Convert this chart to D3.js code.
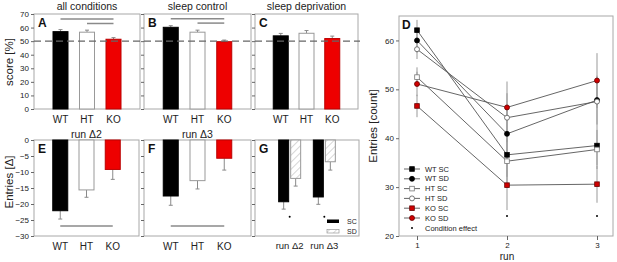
<!DOCTYPE html>
<html><head><meta charset="utf-8">
<script src="https://cdn.jsdelivr.net/npm/d3@7"></script>
<style>body{margin:0;background:#fff}svg{display:block;font-family:"Liberation Sans",Arial,sans-serif}</style>
</head><body><svg id="c" width="617" height="262"></svg>
<script>
// ---------- data ----------
const genotypes = ["WT", "HT", "KO"];
const topTitles = ["all conditions", "sleep control", "sleep deprivation"];
const topLetters = ["A", "B", "C"];
const scoreAll = [57.0, 56.6, 51.4];
const errAll = [1.5, 1.5, 1.2];
const scoreSC = [60.2, 56.6, 49.6];
const errSC = [1.2, 1.5, 1.2];
const scoreSD = [53.9, 55.8, 51.9];
const errSD = [1.8, 2.0, 1.8];
const sigA = [[0, 2, 66.3], [1, 2, 63.0]];
const sigB = [[0, 2, 66.5], [1, 2, 63.3]];
const scoreTicks = [0, 10, 20, 30, 40, 50, 60, 70];

const deltaTitles = ["run \u03942", "run \u03943"];
const delta2 = [-22.1, -15.6, -9.2];
const errDelta2 = [2.6, 2.3, 3.1];
const delta3 = [-17.5, -12.7, -5.7];
const errDelta3 = [2.9, 2.6, 3.7];
const sigDelta = -26.9;
const deltaTicks = [0, -5, -10, -15, -20, -25, -30];

const gRuns = ["run \u03942", "run \u03943"];
const gSC = [-19.3, -17.8];
const gSCerr = [2.3, 2.3];
const gSD = [-12.0, -6.8];
const gSDerr = [2.4, 2.6];
const gStar = -24.0;

const runs = [1, 2, 3];
const seriesNames = ["WT SC", "WT SD", "HT SC", "HT SD", "KO SC", "KO SD"];
const wtSC = [62.1, 36.6, 38.5];
const wtSD = [60.0, 40.9, 47.8];
const htSC = [52.5, 35.3, 37.7];
const htSD = [58.2, 44.2, 47.5];
const koSC = [46.6, 30.4, 30.6];
const koSD = [51.1, 46.3, 51.8];
const wtSCerr = [2.1, 4.5, 4.0];
const wtSDerr = [2.5, 5.0, 5.0];
const htSCerr = [2.0, 4.5, 4.0];
const htSDerr = [2.0, 5.0, 5.0];
const koSCerr = [2.3, 5.1, 3.8];
const koSDerr = [2.5, 5.3, 5.6];
const starRuns = [2, 3];
const starValue = 24.1;
const countTicks = [20, 30, 40, 50, 60];

// ---------- drawing ----------
const svg = d3.select("#c");
const FRAME = "#a8a8a8", GRAY = "#8a8a8a", TXT = "#222", RED = "#ee0000";
const TICKF = 8, LABF = 10, TITLEF = 10.5, AXF = 11.5;

const defs = svg.append("defs");
const pat = defs.append("pattern").attr("id", "hatch").attr("patternUnits", "userSpaceOnUse")
  .attr("width", 5).attr("height", 5).attr("patternTransform", "rotate(45)");
pat.append("rect").attr("width", 5).attr("height", 5).attr("fill", "#fff");
pat.append("line").attr("x1", 0).attr("y1", 0).attr("x2", 0).attr("y2", 5).attr("stroke", "#999").attr("stroke-width", 0.8);

const fills = ["#000", "#fff", RED];
const strokes = ["#000", "#999", "#b00"];

function frame(x0, x1, y0, y1) {
  svg.append("rect").attr("x", x0).attr("y", y0).attr("width", x1 - x0).attr("height", y1 - y0)
    .attr("fill", "none").attr("stroke", FRAME).attr("stroke-width", 1);
}
function yAxis(y, x0, ticks, labels, fmt) {
  const g = svg.append("g").attr("transform", `translate(${x0},0)`)
    .call(d3.axisLeft(y).tickValues(ticks).tickSize(3).tickPadding(2).tickFormat(labels ? fmt : ""));
  g.select(".domain").remove();
  g.selectAll("line").attr("stroke", "#666");
  g.selectAll("text").attr("fill", TXT).attr("font-size", TICKF).attr("font-family", "Liberation Sans, Arial, sans-serif");
}
function letter(t, x, y) {
  svg.append("text").attr("x", x).attr("y", y).attr("font-weight", "bold").attr("font-size", 12).attr("fill", "#111").text(t);
}

// top panels
const topX = [[34, 140], [144, 251], [255, 358]];
const yScore = d3.scaleLinear().domain([0, 70]).range([109, 14]);
const topData = [[scoreAll, errAll, sigA], [scoreSC, errSC, sigB], [scoreSD, errSD, []]];
topData.forEach(([vals, errs, sigs], p) => {
  const [x0, x1] = topX[p];
  const x = d3.scalePoint().domain(genotypes).range([x0, x1]).padding(1);
  frame(x0, x1, 14, 109);
  yAxis(yScore, x0, scoreTicks, p === 0, d3.format("d"));
  const bw = 15;
  genotypes.forEach((g, i) => {
    const cx = x(g);
    svg.append("line").attr("x1", cx).attr("x2", cx).attr("y1", yScore(vals[i])).attr("y2", yScore(vals[i] + errs[i]))
      .attr("stroke", GRAY).attr("stroke-width", 1);
    svg.append("line").attr("x1", cx - 2).attr("x2", cx + 2).attr("y1", yScore(vals[i] + errs[i])).attr("y2", yScore(vals[i] + errs[i]))
      .attr("stroke", GRAY).attr("stroke-width", 1);
    svg.append("rect").attr("x", cx - bw / 2).attr("y", yScore(vals[i])).attr("width", bw)
      .attr("height", yScore(0) - yScore(vals[i])).attr("fill", fills[i]).attr("stroke", strokes[i]).attr("stroke-width", 1);
  });
  svg.append("line").attr("x1", x0).attr("x2", x1 + 2).attr("y1", yScore(50)).attr("y2", yScore(50))
    .attr("stroke", "#666").attr("stroke-width", 1.2).attr("stroke-dasharray", "7,4");
  sigs.forEach(s => {
    svg.append("line").attr("x1", x(genotypes[s[0]])).attr("x2", x(genotypes[s[1]]))
      .attr("y1", yScore(s[2])).attr("y2", yScore(s[2])).attr("stroke", GRAY).attr("stroke-width", 1.5);
  });
  genotypes.forEach(g => {
    svg.append("text").attr("x", x(g)).attr("y", 123).attr("text-anchor", "middle").attr("font-size", LABF).attr("fill", TXT).text(g);
  });
  svg.append("text").attr("x", (x0 + x1) / 2).attr("y", 10).attr("text-anchor", "middle").attr("font-size", TITLEF).attr("fill", TXT).text(topTitles[p]);
  letter(topLetters[p], x0 + 4, 27);
});
svg.append("text").attr("transform", "translate(13,62) rotate(-90)").attr("text-anchor", "middle").attr("font-size", AXF).attr("fill", TXT).text("score [%]");

// bottom panels E, F
const yDelta = d3.scaleLinear().domain([-30, 0]).range([236, 140]);
const botX = [[34, 139], [144, 251], [255, 359]];
[[delta2, errDelta2], [delta3, errDelta3]].forEach(([vals, errs], p) => {
  const [x0, x1] = botX[p];
  const x = d3.scalePoint().domain(genotypes).range([x0, x1]).padding(1);
  frame(x0, x1, 140, 236);
  yAxis(yDelta, x0, deltaTicks, p === 0, d3.format("d"));
  const bw = 15;
  genotypes.forEach((g, i) => {
    const cx = x(g);
    const e = vals[i] - errs[i];
    svg.append("line").attr("x1", cx).attr("x2", cx).attr("y1", yDelta(vals[i])).attr("y2", yDelta(e)).attr("stroke", GRAY);
    svg.append("line").attr("x1", cx - 2).attr("x2", cx + 2).attr("y1", yDelta(e)).attr("y2", yDelta(e)).attr("stroke", GRAY);
    svg.append("rect").attr("x", cx - bw / 2).attr("y", yDelta(0)).attr("width", bw)
      .attr("height", yDelta(vals[i]) - yDelta(0)).attr("fill", fills[i]).attr("stroke", strokes[i]);
  });
  svg.append("line").attr("x1", x("WT")).attr("x2", x("KO")).attr("y1", yDelta(sigDelta)).attr("y2", yDelta(sigDelta))
    .attr("stroke", GRAY).attr("stroke-width", 1.5);
  genotypes.forEach(g => {
    svg.append("text").attr("x", x(g)).attr("y", 250).attr("text-anchor", "middle").attr("font-size", LABF).attr("fill", TXT).text(g);
  });
  svg.append("text").attr("x", x("HT")).attr("y", 138).attr("text-anchor", "middle").attr("font-size", TITLEF).attr("fill", TXT).text(deltaTitles[p]);
  letter(["E", "F"][p], x0 + 4, 153);
});
svg.append("text").attr("transform", "translate(13,182) rotate(-90)").attr("text-anchor", "middle").attr("font-size", AXF).attr("fill", TXT).text("Entries [\u0394]");

// panel G
{
  const [x0, x1] = botX[2];
  const x = d3.scalePoint().domain(gRuns).range([x0, x1]).padding(1);
  frame(x0, x1, 140, 236);
  yAxis(yDelta, x0, deltaTicks, false);
  const bw = 10;
  gRuns.forEach((r, i) => {
    const cx = x(r);
    [[gSC, gSCerr, cx - 6, "#000", "#000"], [gSD, gSDerr, cx + 6, "url(#hatch)", "#999"]].forEach(([v, e, c, f, s]) => {
      const ee = v[i] - e[i];
      svg.append("line").attr("x1", c).attr("x2", c).attr("y1", yDelta(v[i])).attr("y2", yDelta(ee)).attr("stroke", GRAY);
      svg.append("line").attr("x1", c - 2).attr("x2", c + 2).attr("y1", yDelta(ee)).attr("y2", yDelta(ee)).attr("stroke", GRAY);
      svg.append("rect").attr("x", c - bw / 2).attr("y", yDelta(0)).attr("width", bw)
        .attr("height", yDelta(v[i]) - yDelta(0)).attr("fill", f).attr("stroke", s);
    });
    svg.append("circle").attr("cx", cx).attr("cy", yDelta(gStar)).attr("r", 1).attr("fill", "#000");
    svg.append("text").attr("x", cx).attr("y", 249).attr("text-anchor", "middle").attr("font-size", 9.5).attr("fill", TXT).text(r);
  });
  svg.append("rect").attr("x", 327).attr("y", 219.5).attr("width", 12).attr("height", 3.5).attr("fill", "#000");
  svg.append("rect").attr("x", 327).attr("y", 229.5).attr("width", 12).attr("height", 3.5).attr("fill", "url(#hatch)").attr("stroke", "#999").attr("stroke-width", 0.7);
  svg.append("text").attr("x", 347).attr("y", 224).attr("font-size", 7).attr("fill", TXT).text("SC");
  svg.append("text").attr("x", 347).attr("y", 234).attr("font-size", 7).attr("fill", TXT).text("SD");
  letter("G", x0 + 4, 153);
}

// panel D
{
  const x0 = 399, x1 = 613, y0 = 16, y1 = 236;
  const x = d3.scaleLinear().domain([1, 3]).range([417, 597]);
  const y = d3.scaleLinear().domain([20, 65]).range([y1, y0]);
  frame(x0, x1, y0, y1);
  yAxis(y, x0, countTicks, true, d3.format("d"));
  const gx = svg.append("g").attr("transform", `translate(0,${y1})`)
    .call(d3.axisBottom(x).tickValues(runs).tickSize(4).tickPadding(2).tickFormat(d3.format("d")));
  gx.select(".domain").remove();
  gx.selectAll("line").attr("stroke", "#666");
  gx.selectAll("text").attr("fill", TXT).attr("font-size", TICKF).attr("font-family", "Liberation Sans, Arial, sans-serif");
  svg.append("text").attr("x", x(2)).attr("y", 260).attr("text-anchor", "middle").attr("font-size", 10).attr("fill", TXT).text("run");
  svg.append("text").attr("transform", `translate(377,${(y0 + y1) / 2}) rotate(-90)`).attr("text-anchor", "middle").attr("font-size", AXF).attr("fill", TXT).text("Entries [count]");

  const series = [
    {name: seriesNames[0], v: wtSC, e: wtSCerr, shape: "sq", fill: "#000", stroke: "#000"},
    {name: seriesNames[1], v: wtSD, e: wtSDerr, shape: "ci", fill: "#000", stroke: "#000"},
    {name: seriesNames[2], v: htSC, e: htSCerr, shape: "sq", fill: "#fff", stroke: "#777"},
    {name: seriesNames[3], v: htSD, e: htSDerr, shape: "ci", fill: "#fff", stroke: "#555"},
    {name: seriesNames[4], v: koSC, e: koSCerr, shape: "sq", fill: "#d00000", stroke: "#600"},
    {name: seriesNames[5], v: koSD, e: koSDerr, shape: "ci", fill: "#d00000", stroke: "#600"}
  ];
  series.forEach(s => runs.forEach((r, i) => {
    svg.append("line").attr("x1", x(r)).attr("x2", x(r)).attr("y1", y(s.v[i] - s.e[i])).attr("y2", y(s.v[i] + s.e[i]))
      .attr("stroke", "#999").attr("stroke-width", 1);
  }));
  const line = d3.line().x((d, i) => x(runs[i])).y(d => y(d));
  series.forEach(s => {
    svg.append("path").attr("d", line(s.v)).attr("fill", "none").attr("stroke", "#555").attr("stroke-width", 0.9);
  });
  function marker(s, cx, cy) {
    if (s.shape === "sq") svg.append("rect").attr("x", cx - 2.3).attr("y", cy - 2.3).attr("width", 4.6).attr("height", 4.6)
      .attr("fill", s.fill).attr("stroke", s.stroke).attr("stroke-width", 0.8);
    else svg.append("circle").attr("cx", cx).attr("cy", cy).attr("r", 2.5).attr("fill", s.fill).attr("stroke", s.stroke).attr("stroke-width", 0.8);
  }
  series.forEach(s => runs.forEach((r, i) => marker(s, x(r), y(s.v[i]))));
  starRuns.forEach(r => svg.append("circle").attr("cx", x(r)).attr("cy", y(starValue)).attr("r", 1).attr("fill", "#000"));
  const ly = [169, 178.8, 188.6, 198.4, 208.2, 218];
  series.forEach((s, i) => {
    svg.append("line").attr("x1", 404).attr("x2", 420).attr("y1", ly[i]).attr("y2", ly[i]).attr("stroke", "#555").attr("stroke-width", 0.9);
    marker(s, 412, ly[i]);
    svg.append("text").attr("x", 425).attr("y", ly[i] + 2.6).attr("font-size", 7.5).attr("fill", TXT).text(s.name);
  });
  svg.append("circle").attr("cx", 412).attr("cy", 228).attr("r", 1).attr("fill", "#000");
  svg.append("text").attr("x", 425).attr("y", 230.6).attr("font-size", 7.5).attr("fill", TXT).text("Condition effect");
  letter("D", 402, 29);
}
</script></body></html>
